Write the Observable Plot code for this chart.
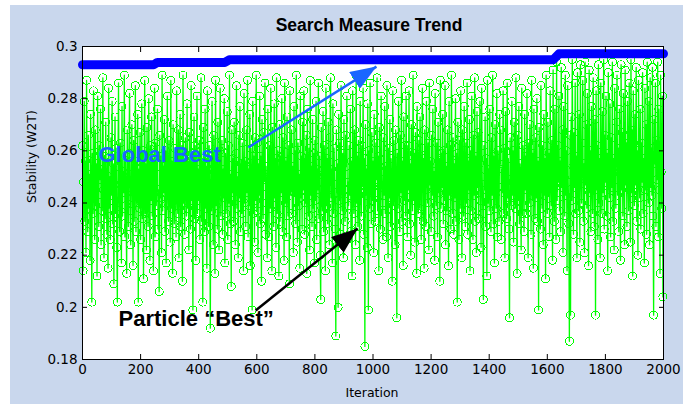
<!DOCTYPE html>
<html>
<head>
<meta charset="utf-8">
<script src="https://cdn.jsdelivr.net/npm/d3@7"></script>
<script src="https://cdn.jsdelivr.net/npm/@observablehq/plot@0.6"></script>
<style>
  html, body { margin: 0; padding: 0; background: #ffffff; }
  #wrap { position: relative; width: 691px; height: 404px; overflow: hidden; }
  #bg { position: absolute; left: 10px; top: 5px; width: 673px; height: 399px; background: #c9d7ed; }
  #chart { position: absolute; left: 0; top: 0; }
</style>
</head>
<body>
<div id="wrap"><div id="bg"></div><div id="chart"></div></div>
<script>
// ---------- data ----------
const titleText = "Search Measure Trend";
const xLabel = "Iteration";
const yLabel = "Stability (W2T)";
const xTicks = [0, 200, 400, 600, 800, 1000, 1200, 1400, 1600, 1800, 2000];
const yTicks = [0.18, 0.2, 0.22, 0.24, 0.26, 0.28, 0.3];
const iterStep = 2; // one sample every 2 iterations

// Particle "best" stability, sampled every 2 iterations (0..1998)
const particleBest = [
  .262,.214,.248,.279,.233,.256,.221,.287,.241,.229,.266,.238,.251,.218,.274,.244,.202,.259,.236,.283,
  .247,.226,.268,.239,.255,.212,.281,.243,.231,.262,.249,.276,.224,.253,.237,.288,.245,.219,.258,.234,
  .271,.242,.228,.257,.215,.284,.238,.250,.226,.265,.243,.279,.232,.255,.209,.247,.273,.236,.261,.223,
  .202,.254,.286,.240,.229,.263,.247,.217,.277,.235,.252,.244,.289,.227,.258,.239,.213,.268,.246,.231,
  .259,.282,.237,.224,.251,.270,.242,.216,.264,.233,.248,.285,.229,.256,.240,.274,.202,.253,.238,.267,
  .226,.245,.278,.234,.260,.211,.249,.287,.236,.255,.222,.269,.243,.231,.280,.250,.218,.262,.241,.273,
  .235,.257,.214,.248,.284,.227,.263,.239,.251,.276,.230,.245,.206,.266,.242,.258,.221,.289,.237,.254,
  .244,.272,.229,.260,.217,.253,.281,.240,.233,.264,.249,.225,.287,.238,.256,.213,.270,.246,.232,.261,
  .252,.227,.283,.243,.236,.268,.219,.255,.274,.231,.247,.262,.210,.289,.240,.257,.228,.265,.249,.235,
  .278,.238,.256,.222,.267,.245,.230,.285,.241,.259,.199,.251,.273,.234,.262,.218,.247,.281,.236,.253,
  .241,.264,.226,.250,.288,.233,.257,.202,.269,.244,.229,.276,.238,.254,.215,.283,.247,.231,.262,.240,
  .192,.258,.237,.279,.246,.224,.266,.252,.213,.287,.239,.256,.230,.271,.243,.222,.260,.284,.235,.249,
  .264,.228,.253,.242,.280,.217,.259,.236,.248,.275,.226,.262,.240,.289,.232,.251,.208,.268,.244,.257,
  .233,.271,.246,.224,.259,.285,.238,.250,.219,.266,.242,.277,.229,.255,.236,.263,.248,.214,.282,.240,
  .256,.231,.268,.244,.287,.227,.253,.239,.274,.216,.261,.247,.199,.279,.236,.258,.225,.265,.241,.289,
  .237,.263,.221,.255,.243,.281,.232,.258,.210,.272,.246,.234,.267,.250,.286,.228,.254,.240,.219,.276,
  .249,.227,.262,.238,.284,.245,.214,.269,.253,.231,.278,.242,.257,.223,.288,.236,.260,.247,.212,.270,
  .233,.258,.244,.280,.229,.265,.251,.218,.286,.240,.256,.227,.273,.246,.235,.262,.209,.283,.243,.252,
  .268,.236,.254,.221,.277,.244,.260,.232,.289,.247,.225,.263,.239,.251,.215,.281,.242,.258,.230,.271,
  .245,.283,.228,.257,.240,.266,.213,.276,.249,.235,.261,.222,.287,.243,.254,.231,.272,.238,.259,.217,
  .264,.241,.279,.226,.253,.245,.286,.234,.258,.220,.203,.269,.248,.237,.275,.229,.262,.251,.214,.284,
  .239,.257,.232,.271,.246,.224,.265,.288,.242,.253,.217,.278,.236,.261,.247,.230,.189,.268,.244,.255,
  .200,.274,.241,.263,.228,.285,.250,.237,.259,.219,.272,.245,.233,.266,.254,.281,.226,.248,.239,.262,
  .243,.276,.229,.256,.212,.283,.247,.236,.268,.252,.224,.289,.240,.258,.231,.264,.246,.218,.279,.250,
  .235,.262,.247,.284,.228,.257,.185,.270,.243,.253,.223,.278,.199,.260,.238,.286,.249,.232,.267,.241,
  .256,.221,.274,.244,.233,.263,.249,.288,.237,.258,.214,.269,.246,.230,.281,.252,.240,.226,.265,.243,
  .277,.236,.254,.227,.285,.248,.219,.261,.242,.272,.231,.257,.245,.210,.283,.239,.264,.250,.224,.268,
  .247,.196,.259,.238,.279,.253,.229,.266,.244,.287,.233,.256,.216,.273,.241,.262,.235,.281,.250,.227,
  .262,.245,.283,.232,.255,.220,.270,.248,.237,.289,.241,.259,.225,.267,.252,.213,.277,.243,.236,.264,
  .238,.273,.249,.226,.261,.284,.233,.257,.215,.268,.245,.231,.279,.254,.240,.263,.222,.286,.247,.256,
  .229,.266,.243,.276,.235,.252,.218,.282,.248,.239,.263,.227,.271,.244,.257,.210,.287,.238,.259,.246,
  .274,.232,.260,.241,.285,.224,.254,.237,.268,.249,.216,.279,.243,.262,.230,.289,.251,.236,.265,.228,
  .255,.242,.280,.233,.259,.202,.271,.247,.226,.264,.238,.283,.252,.219,.268,.244,.235,.277,.249,.231,
  .263,.240,.286,.228,.256,.245,.272,.214,.260,.237,.281,.250,.226,.266,.243,.288,.233,.258,.221,.275,
  .246,.267,.234,.255,.279,.241,.223,.284,.250,.236,.203,.262,.245,.273,.231,.257,.212,.287,.240,.253,
  .237,.276,.248,.229,.265,.243,.289,.232,.258,.217,.270,.251,.238,.282,.227,.260,.246,.233,.274,.255,
  .268,.226,.253,.244,.283,.236,.261,.219,.275,.248,.234,.286,.242,.257,.230,.196,.265,.249,.239,.279,
  .243,.260,.225,.271,.252,.238,.288,.246,.213,.266,.241,.277,.232,.255,.247,.222,.284,.236,.262,.250,
  .229,.274,.245,.258,.236,.282,.249,.219,.263,.240,.270,.253,.228,.287,.243,.259,.215,.276,.247,.234,
  .265,.242,.280,.233,.256,.199,.269,.246,.230,.285,.251,.238,.262,.224,.274,.243,.257,.211,.289,.248,
  .236,.271,.244,.259,.227,.283,.250,.239,.264,.218,.291,.245,.233,.276,.254,.226,.294,.241,.262,.248,
  .281,.237,.256,.229,.292,.246,.268,.221,.277,.250,.235,.289,.243,.260,.214,.285,.248,.232,.187,.266,
  .197,.273,.241,.295,.254,.228,.267,.246,.286,.236,.258,.219,.290,.249,.237,.274,.225,.293,.252,.240,
  .263,.287,.233,.255,.221,.294,.247,.270,.238,.282,.251,.216,.291,.244,.260,.229,.277,.248,.236,.288,
  .254,.231,.272,.197,.283,.245,.262,.226,.293,.240,.257,.219,.286,.250,.236,.275,.244,.295,.230,.266,
  .248,.281,.235,.259,.214,.290,.253,.242,.278,.227,.265,.246,.294,.233,.257,.222,.284,.249,.238,.271,
  .289,.243,.261,.229,.276,.252,.218,.293,.245,.267,.235,.282,.256,.224,.291,.247,.263,.231,.279,.254,
  .237,.286,.250,.225,.295,.244,.268,.212,.283,.258,.239,.274,.247,.292,.233,.260,.220,.287,.251,.242,
  .276,.230,.263,.248,.290,.236,.257,.217,.284,.245,.270,.228,.294,.253,.240,.279,.224,.288,.246,.261,
  .243,.292,.235,.197,.272,.255,.286,.231,.264,.249,.294,.227,.276,.245,.213,.289,.252,.238,.281,.204
];

// Global best trace (piecewise)
const globalIter = [0, 245, 258, 490, 505, 1620, 1640, 2000];
const globalBest = [0.2930, 0.2930, 0.2939, 0.2939, 0.2949, 0.2949, 0.2972, 0.2972];

// Annotations (data coordinates)
const annLabels = ["Global Best", "Particle \u201cBest\u201d"];
const annTextX = [55, 124];
const annTextY = [0.2559, 0.1930];
const annColors = ["#1a66ff", "#000000"];
const arrowFromX = [571, 596];
const arrowFromY = [0.2613, 0.1988];
const arrowToX = [1012, 947];
const arrowToY = [0.2923, 0.2302];

// ---------- build ----------
const points = particleBest.map((v, i) => ({iter: i * iterStep, value: v}));
const gbest = globalIter.map((x, i) => ({iter: x, value: globalBest[i]}));
const anns = annLabels.map((t, i) => ({text: t, x: annTextX[i], y: annTextY[i], color: annColors[i]}));
const arrows = annLabels.map((t, i) => ({x1: arrowFromX[i], y1: arrowFromY[i], x2: arrowToX[i], y2: arrowToY[i], color: annColors[i]}));

function triangleHead(color) {
  const m = document.createElementNS("http://www.w3.org/2000/svg", "marker");
  m.setAttribute("viewBox", "0 0 26 20");
  m.setAttribute("refX", "26");
  m.setAttribute("refY", "10");
  m.setAttribute("markerWidth", "26");
  m.setAttribute("markerHeight", "20");
  m.setAttribute("markerUnits", "userSpaceOnUse");
  m.setAttribute("orient", "auto");
  const p = document.createElementNS("http://www.w3.org/2000/svg", "path");
  p.setAttribute("d", "M0,0L26,10L0,20Z");
  p.setAttribute("fill", color);
  m.appendChild(p);
  return m;
}

const fmt = d => String(+d.toFixed(2));

const chart = Plot.plot({
  width: 691,
  height: 404,
  marginLeft: 82,
  marginRight: 28,
  marginTop: 46,
  marginBottom: 45,
  style: {fontFamily: "DejaVu Sans, sans-serif", fontSize: "13.5px", background: "transparent", color: "#000", overflow: "visible"},
  x: {domain: [0, 2000], ticks: xTicks},
  y: {domain: [0.18, 0.3], ticks: yTicks},
  marks: [
    Plot.frame({fill: "white"}),
    Plot.line(points, {x: "iter", y: "value", stroke: "#00ff00", strokeWidth: 1.3}),
    Plot.dot(points, {x: "iter", y: "value", r: 4, stroke: "#00ff00", strokeWidth: 1, fill: "none", shapeRendering: "crispEdges"}),
    Plot.line(gbest, {x: "iter", y: "value", stroke: "#0000ff", strokeWidth: 9, strokeLinecap: "round", strokeLinejoin: "round"}),
    Plot.link(arrows, {x1: "x1", y1: "y1", x2: "x2", y2: "y2", stroke: "color", strokeWidth: 2.5, markerEnd: triangleHead}),
    Plot.text(anns, {x: "x", y: "y", text: "text", fill: "color", textAnchor: "start", lineAnchor: "bottom", fontSize: 22, fontWeight: "bold", fontFamily: "Liberation Sans, Arial, sans-serif"}),
    Plot.axisX(xTicks, {anchor: "bottom", tickSize: -5, tickPadding: 10, tickFormat: d => String(d), label: null}),
    Plot.axisX(xTicks, {anchor: "top", tickSize: -5, tickFormat: () => "", label: null}),
    Plot.axisY(yTicks, {anchor: "left", tickSize: -5, tickPadding: 10, tickFormat: fmt, label: null}),
    Plot.axisY(yTicks, {anchor: "right", tickSize: -5, tickFormat: () => "", label: null}),
    Plot.frame({stroke: "black", strokeWidth: 1}),
    Plot.text([titleText], {frameAnchor: "top", lineAnchor: "bottom", dy: -16, dx: -4, fontSize: 17.5, fontWeight: "bold", fontFamily: "Liberation Sans, Arial, sans-serif"}),
    Plot.text([xLabel], {frameAnchor: "bottom", lineAnchor: "bottom", dy: 37, dx: -1, fontSize: 12.5}),
    Plot.text([yLabel], {frameAnchor: "left", rotate: -90, lineAnchor: "middle", dx: -51, fontSize: 12.5})
  ]
});
document.getElementById("chart").appendChild(chart);
</script>
</body>
</html>
